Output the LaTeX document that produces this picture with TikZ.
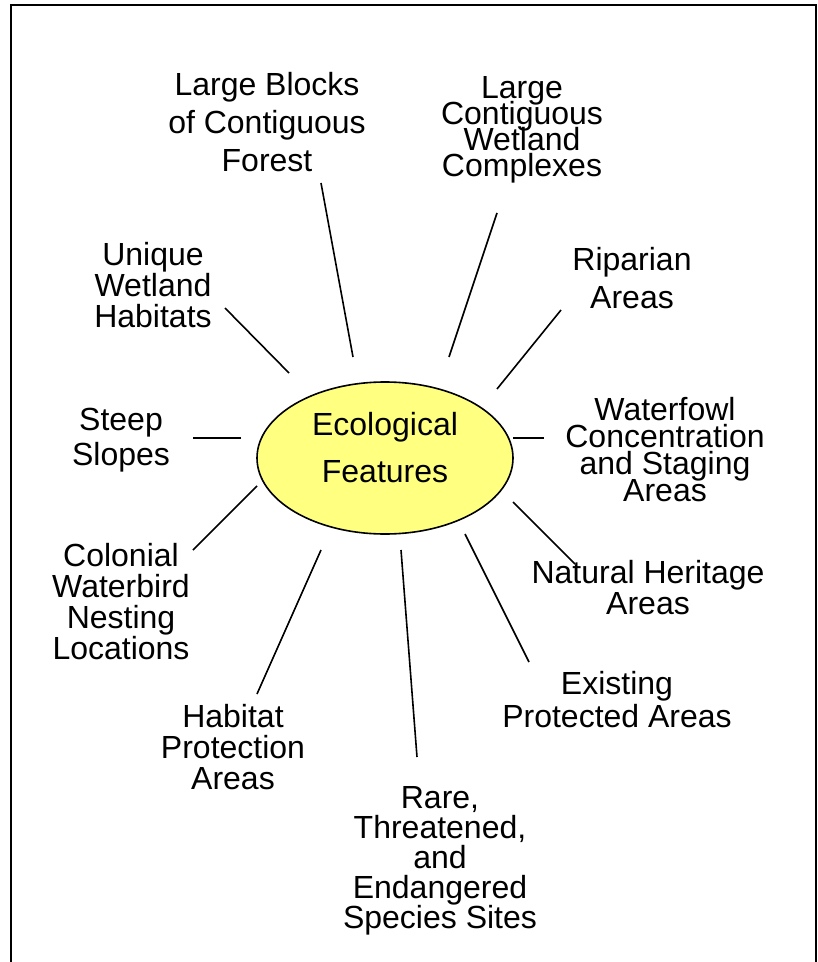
\documentclass[tikz,border=0pt]{standalone}
\usepackage{fontspec}
\setmainfont{Liberation Sans}
\usetikzlibrary{shapes.geometric}
\definecolor{ecoyellow}{HTML}{FFFF80}

\tikzset{
  feat/.style={align=center, inner sep=0pt,
    font={\fontsize{24}{#1}\selectfont\lineskiplimit-100pt\relax}},
  feat/.default=23.25,
  spoke/.style={line width=1.2pt},
}

\begin{document}
\begin{tikzpicture}[x=0.75pt, y=-0.75pt]
    \useasboundingbox (0,0) rectangle (817,962);

    % frame
    \draw[line width=1.6pt] (11,962) -- (11,5) -- (816,5) -- (816,962);

    % nodes
    \node[ellipse, draw, line width=1.2pt, fill=ecoyellow, minimum width=192pt, minimum height=114pt,
          inner sep=0pt, text depth=16pt, align=center, font=\fontsize{24}{35}\selectfont]
          (eco) at (385,458) {Ecological\\Features};
    \node[feat=28.5] (blocks) at (267,122) {Large Blocks\\of Contiguous\\Forest};
    \node[feat=19.5] (contig) at (522,130) {Large\\Contiguous\\Wetland\\Complexes};
    \node[feat] (unique) at (153,285) {Unique\\Wetland\\Habitats};
    \node[feat=28.5] (riparian) at (632,278) {Riparian\\Areas};
    \node[feat=26.25] (steep) at (121,440) {Steep\\Slopes};
    \node[feat=20.25] (waterfowl) at (665,450) {Waterfowl\\Concentration\\and Staging\\Areas};
    \node[feat] (colonial) at (121,602) {Colonial\\Waterbird\\Nesting\\Locations};
    \node[feat] (natural) at (648,588) {Natural Heritage\\Areas};
    \node[feat] (habitat) at (233,747) {Habitat\\Protection\\Areas};
    \node[feat=24.75] (existing) at (617,700) {Existing\\Protected Areas};
    \node[feat=22.5] (rare) at (440,861) {Rare,\\Threatened,\\and\\Endangered\\Species Sites};

    % spoke ends
    \coordinate (blocks-in) at (353,357);    \coordinate (blocks-out) at (321,183);
    \coordinate (contig-in) at (449,357);    \coordinate (contig-out) at (497,213);
    \coordinate (unique-in) at (289,373);    \coordinate (unique-out) at (225,308);
    \coordinate (riparian-in) at (497,389);  \coordinate (riparian-out) at (561,310);
    \coordinate (steep-in) at (241,438);     \coordinate (steep-out) at (193,438);
    \coordinate (waterfowl-in) at (513,438); \coordinate (waterfowl-out) at (544,438);
    \coordinate (colonial-in) at (257,486);  \coordinate (colonial-out) at (193,550);
    \coordinate (natural-in) at (513,502);   \coordinate (natural-out) at (575,564);
    \coordinate (habitat-in) at (321,550);   \coordinate (habitat-out) at (257,694);
    \coordinate (existing-in) at (465,534);  \coordinate (existing-out) at (529,662);
    \coordinate (rare-in) at (401,550);      \coordinate (rare-out) at (417,757);

    % spokes
    \foreach \n in {blocks,contig,unique,riparian,steep,waterfowl,colonial,natural,habitat,existing,rare}
        \draw[spoke] (\n-in) -- (\n-out);

\end{tikzpicture}
\end{document}
